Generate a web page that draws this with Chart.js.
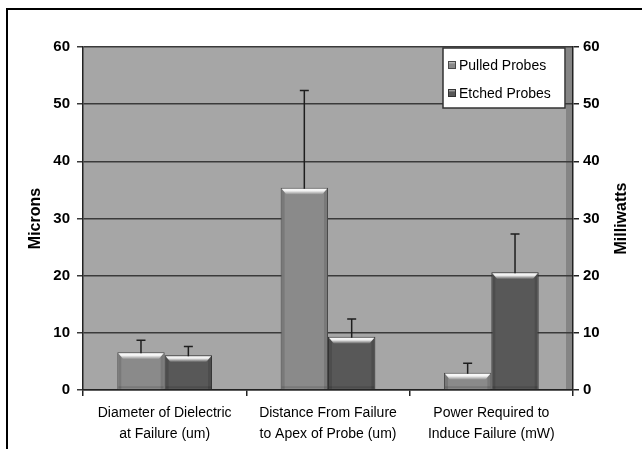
<!DOCTYPE html>
<html>
<head>
<meta charset="utf-8">
<script src="https://cdn.jsdelivr.net/npm/chart.js@4.4.1/dist/chart.umd.min.js"></script>
<style>
  html, body { margin: 0; padding: 0; background: #fff; }
  #wrap { position: relative; width: 642px; height: 449px; overflow: hidden; }
  #frame { position: absolute; left: 6px; top: 8px; width: 700px; height: 500px;
           border-top: 2px solid #000; border-left: 2px solid #000; pointer-events: none; }
  canvas { position: absolute; left: 0; top: 0; }
</style>
</head>
<body>
<div id="wrap">
  <canvas id="c" width="642" height="449"></canvas>
  <div id="frame"></div>
</div>
<script>
// ---- data ----
const categories = [
  ["Diameter of Dielectric", "at Failure (um)"],
  ["Distance From Failure", "to Apex of Probe (um)"],
  ["Power Required to", "Induce Failure (mW)"]
];
const seriesNames = ["Pulled Probes", "Etched Probes"];
const pulledValues = [6.6, 35.4, 3.0];
const pulledErrorTop = [8.7, 52.4, 4.7];
const etchedValues = [6.1, 9.3, 20.6];
const etchedErrorTop = [7.6, 12.4, 27.3];
const leftAxisTitle = "Microns";
const rightAxisTitle = "Milliwatts";
const axisMin = 0, axisMax = 60, axisStep = 10;

const errorTops = [pulledErrorTop, etchedErrorTop];
const FONT = "'Liberation Sans', Arial, sans-serif";

const backgroundPlugin = {
  id: 'bg',
  beforeDraw(chart) {
    const { ctx, chartArea: a } = chart;
    ctx.save();
    ctx.fillStyle = '#a6a6a6';
    ctx.fillRect(a.left, a.top, a.right - a.left, a.bottom - a.top);
    ctx.fillStyle = '#858585';
    ctx.fillRect(a.right - 7, a.top, 6, a.bottom - a.top);
    ctx.restore();
  }
};

const barDecorPlugin = {
  id: 'barDecor',
  afterDatasetsDraw(chart) {
    const ctx = chart.ctx;
    const y = chart.scales.y;
    ctx.save();
    chart.data.datasets.forEach((ds, di) => {
      const meta = chart.getDatasetMeta(di);
      meta.data.forEach((bar, i) => {
        const w = bar.width, l = bar.x - w / 2, r = bar.x + w / 2, t = bar.y, b = bar.base;
        // side shading
        ctx.fillStyle = 'rgba(0,0,0,0.12)';
        ctx.fillRect(l + 1, t + 1, 3, b - t - 1);
        ctx.fillRect(r - 4, t + 1, 3, b - t - 1);
        ctx.fillRect(l + 1, b - 3, w - 2, 2);
        // top bevel highlight
        const g = ctx.createLinearGradient(0, t, 0, t + 7);
        g.addColorStop(0, 'rgba(255,255,255,1)');
        g.addColorStop(0.45, 'rgba(255,255,255,0.9)');
        g.addColorStop(1, 'rgba(255,255,255,0.0)');
        ctx.fillStyle = g;
        ctx.beginPath();
        ctx.moveTo(l + 1, t + 1);
        ctx.lineTo(r - 1, t + 1);
        ctx.lineTo(r - 6, t + 7);
        ctx.lineTo(l + 6, t + 7);
        ctx.closePath();
        ctx.fill();
        // error bar (upper only)
        const yTop = y.getPixelForValue(errorTops[di][i]);
        ctx.strokeStyle = '#1e1e1e';
        ctx.lineWidth = 1.5;
        ctx.beginPath();
        ctx.moveTo(bar.x, t + 1);
        ctx.lineTo(bar.x, yTop);
        ctx.moveTo(bar.x - 4.5, yTop);
        ctx.lineTo(bar.x + 4.5, yTop);
        ctx.stroke();
      });
    });
    ctx.restore();
  }
};

const overlayPlugin = {
  id: 'overlay',
  afterDraw(chart) {
    const ctx = chart.ctx;
    const a = chart.chartArea;
    ctx.save();
    // axis titles (both read bottom-to-top)
    ctx.fillStyle = '#000';
    ctx.font = 'bold 16px ' + FONT;
    ctx.textAlign = 'center';
    ctx.textBaseline = 'middle';
    const cy = (a.top + a.bottom) / 2;
    [[36, leftAxisTitle], [622, rightAxisTitle]].forEach(([x, txt]) => {
      ctx.save();
      ctx.translate(x, cy);
      ctx.rotate(-Math.PI / 2);
      ctx.fillText(txt, 0, 0);
      ctx.restore();
    });
    // legend
    const lx = 443, ly = 48, lw = 122, lh = 60;
    ctx.fillStyle = '#fff';
    ctx.fillRect(lx, ly, lw, lh);
    ctx.strokeStyle = '#333';
    ctx.lineWidth = 1.5;
    ctx.strokeRect(lx, ly, lw, lh);
    ctx.font = '14px ' + FONT;
    ctx.textAlign = 'left';
    chart.data.datasets.forEach((ds, i) => {
      const ry = ly + 17 + i * 28;
      const g = ctx.createLinearGradient(0, ry - 4, 0, ry + 4);
      g.addColorStop(0, '#e0e0e0');
      g.addColorStop(0.4, ds.backgroundColor);
      g.addColorStop(1, ds.backgroundColor);
      ctx.fillStyle = g;
      ctx.fillRect(lx + 5, ry - 4, 8, 8);
      ctx.strokeStyle = ds.borderColor;
      ctx.lineWidth = 1;
      ctx.strokeRect(lx + 5.5, ry - 3.5, 7, 7);
      ctx.fillStyle = '#000';
      ctx.fillText(ds.label, lx + 16, ry + 1);
    });
    ctx.restore();
  }
};

new Chart(document.getElementById('c'), {
  type: 'bar',
  data: {
    labels: categories,
    datasets: [
      { label: seriesNames[0], data: pulledValues, backgroundColor: '#8a8a8a', borderColor: '#4a4a4a',
        borderWidth: 1, yAxisID: 'y' },
      { label: seriesNames[1], data: etchedValues, backgroundColor: '#585858', borderColor: '#333333',
        borderWidth: 1, yAxisID: 'y' }
    ]
  },
  options: {
    responsive: false,
    animation: false,
    devicePixelRatio: 1,
    layout: { padding: { top: 47, left: 0, right: 0, bottom: 0 } },
    datasets: { bar: { barPercentage: 1.0, categoryPercentage: 0.58 } },
    plugins: { legend: { display: false }, tooltip: { enabled: false } },
    scales: {
      x: {
        grid: { offset: true, drawOnChartArea: false, tickLength: 6, color: '#222', lineWidth: 1.5 },
        border: { color: '#222', width: 1.5 },
        ticks: { color: '#000', font: { family: FONT, size: 14, lineHeight: 1.5 }, padding: 7, maxRotation: 0, autoSkip: false },
        afterFit(s) { s.height = 59; }
      },
      y: {
        position: 'left', min: axisMin, max: axisMax,
        grid: { color: '#3a3a3a', lineWidth: 1.5, tickLength: 6 },
        border: { color: '#222', width: 1.5 },
        ticks: { stepSize: axisStep, color: '#000', font: { family: FONT, size: 15, weight: 'bold' }, padding: 7 },
        afterFit(s) { s.width = 83; }
      },
      y1: {
        position: 'right', min: axisMin, max: axisMax,
        grid: { drawOnChartArea: false, color: '#222', lineWidth: 1.5, tickLength: 6 },
        border: { color: '#222', width: 1.5 },
        ticks: { stepSize: axisStep, color: '#000', font: { family: FONT, size: 15, weight: 'bold' }, padding: 4 },
        afterFit(s) { s.width = 69; }
      }
    }
  },
  plugins: [backgroundPlugin, barDecorPlugin, overlayPlugin]
});
</script>
</body>
</html>
